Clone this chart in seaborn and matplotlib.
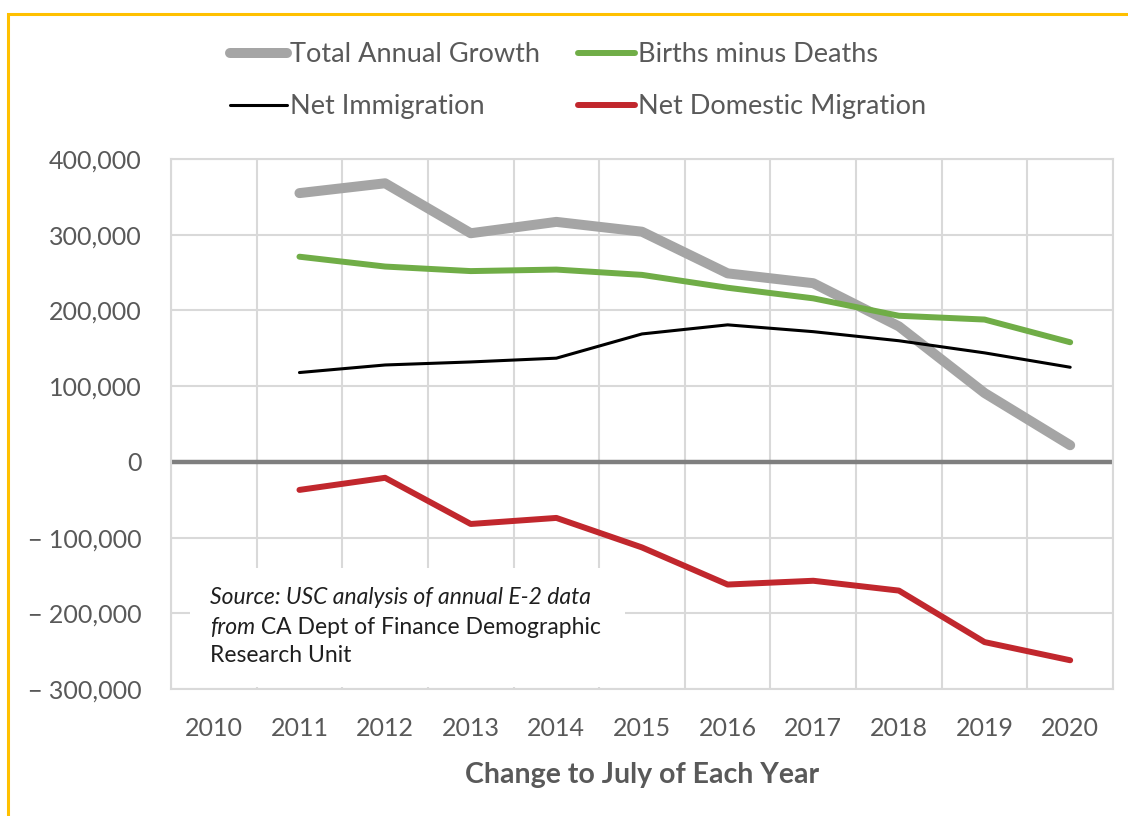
import numpy as np
import pandas as pd
import matplotlib
matplotlib.use("Agg")
import matplotlib.pyplot as plt
import seaborn as sns
from matplotlib.patches import Rectangle
from matplotlib.ticker import FixedLocator, FuncFormatter

# Category axis (change to July of each year)
years = [2010, 2011, 2012, 2013, 2014, 2015, 2016, 2017, 2018, 2019, 2020]
data_years = [2011, 2012, 2013, 2014, 2015, 2016, 2017, 2018, 2019, 2020]

# Population change components (persons)
total_growth = [355000, 368000, 302000, 317000, 304000, 249000, 236000, 179000, 91000, 22000]
births_minus_deaths = [271000, 258000, 252000, 254000, 247000, 230000, 216000, 193000, 188000, 158000]
net_immigration = [118000, 128000, 132000, 137000, 169000, 181000, 172000, 160000, 144000, 125000]
net_domestic = [-37000, -21000, -82000, -74000, -113000, -162000, -157000, -170000, -238000, -262000]

y_ticks = [-300000, -200000, -100000, 0, 100000, 200000, 300000, 400000]

series = {
    "Total Annual Growth": total_growth,
    "Births minus Deaths": births_minus_deaths,
    "Net Immigration": net_immigration,
    "Net Domestic Migration": net_domestic,
}
styles = {
    "Total Annual Growth": dict(color="#A5A5A5", lw=7.2, z=3),
    "Births minus Deaths": dict(color="#70AD47", lw=4.3, z=4),
    "Net Immigration": dict(color="#000000", lw=2.2, z=5),
    "Net Domestic Migration": dict(color="#C1272D", lw=4.3, z=4),
}

rows = []
for name, vals in series.items():
    for yr, v in zip(data_years, vals):
        rows.append({"series": name, "pos": years.index(yr), "value": v})
df = pd.DataFrame(rows)

sns.set_theme(style="white")
plt.rcParams["font.family"] = ["Lato", "DejaVu Sans"]

TXT = "#595959"
GRID = "#D9D9D9"

fig = plt.figure(figsize=(11.28, 8.16), dpi=100)
ax = fig.add_axes([0.1516, 0.1556, 0.8351, 0.6495])

for name in series:
    st = styles[name]
    sns.lineplot(data=df[df["series"] == name], x="pos", y="value", ax=ax,
                 color=st["color"], linewidth=st["lw"], label=name,
                 zorder=st["z"], solid_capstyle="round", solid_joinstyle="round",
                 legend=False)

ax.set_xlim(-0.5, len(years) - 0.5)
ax.set_ylim(min(y_ticks), max(y_ticks))

# gridlines: horizontal at value ticks, vertical between categories
ax.grid(False)
bounds = np.arange(len(years) + 1) - 0.5
ax.vlines(bounds, min(y_ticks), max(y_ticks), color=GRID, lw=1.5, zorder=0.5)
ax.hlines(y_ticks, -0.5, len(years) - 0.5, color=GRID, lw=1.5, zorder=0.5)
ax.axhline(0, color="#7F7F7F", lw=3.2, zorder=1.5)

for sp in ax.spines.values():
    sp.set_color(GRID)
    sp.set_linewidth(1.5)

ax.xaxis.set_major_locator(FixedLocator(range(len(years))))
ax.set_xticklabels([str(y) for y in years])
ax.xaxis.set_minor_locator(FixedLocator(bounds[1:-1]))
ax.tick_params(axis="x", which="major", length=0, pad=20, labelsize=18, labelcolor=TXT)
ax.tick_params(axis="x", which="minor", direction="in", length=5, width=1.2,
               color=GRID, bottom=True)
ax.yaxis.set_major_locator(FixedLocator(y_ticks))
ax.yaxis.set_major_formatter(FuncFormatter(
    lambda v, p: f"{v:,.0f}" if v >= 0 else "\u2212 " + f"{-v:,.0f}"))
ax.tick_params(axis="y", length=0, pad=21, labelsize=18, labelcolor=TXT)

ax.set_xlabel("Change to July of Each Year", fontsize=20.5, fontweight="bold",
              color=TXT, labelpad=16)
ax.set_ylabel("")

# source note on a white box
ax.add_patch(Rectangle((0.02, 0.004), 0.462, 0.224, transform=ax.transAxes,
                       facecolor="white", edgecolor="none", zorder=1))
SRC_FS = 16.5
src_kw = dict(transform=ax.transAxes, fontsize=SRC_FS, color="#1F1F1F",
              va="center", ha="left", zorder=6)
ax.text(0.0414, 0.1736, "Source: USC analysis of annual E-2 data",
        style="italic", **src_kw)
t_from = ax.text(0.0414, 0.117, "from", style="italic", **src_kw)
ax.annotate(" CA Dept of Finance Demographic", xy=(1, 0.5), xycoords=t_from,
            fontsize=SRC_FS, color="#1F1F1F", va="center", ha="left", zorder=6)
ax.text(0.0414, 0.064, "Research Unit", **src_kw)

# legend across the top
handles, labels = ax.get_legend_handles_labels()
order = ["Total Annual Growth", "Net Immigration", "Births minus Deaths",
         "Net Domestic Migration"]
hmap = dict(zip(labels, handles))
leg = fig.legend([hmap[k] for k in order], order, ncol=2, loc="upper left",
                 bbox_to_anchor=(0.2039, 0.9485), frameon=False, fontsize=19.5,
                 handlelength=2.1, handletextpad=0.12, columnspacing=1.4,
                 labelspacing=1.0, borderpad=0, borderaxespad=0)
for t in leg.get_texts():
    t.set_color(TXT)

# gold frame around the chart
fig.patches.append(Rectangle((8 / 1128, -0.2), 1.3, 1.2 - 14 / 816,
                             transform=fig.transFigure, fill=False,
                             edgecolor="#FFC000", lw=2.2, zorder=0))

fig.savefig("out.png", dpi=100, facecolor="white")
